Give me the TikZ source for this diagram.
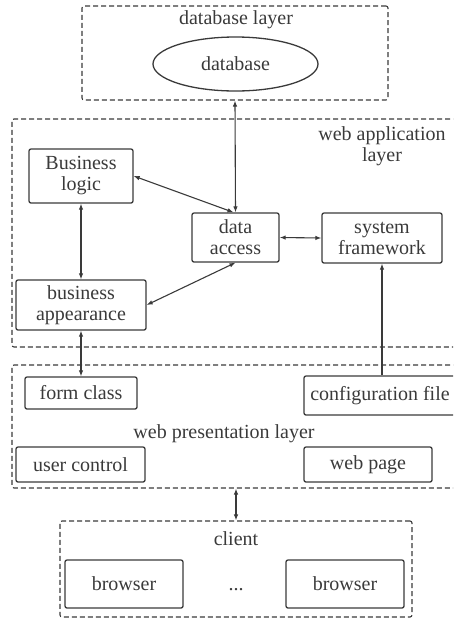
\documentclass[tikz,border=0pt]{standalone}
\usepackage{fontspec}
\setmainfont{Liberation Serif}
\usetikzlibrary{arrows.meta,shapes.geometric}
\definecolor{ink}{HTML}{3A3A3A}
\begin{document}
\begin{tikzpicture}[x=1pt,y=-1pt,
  every node/.style={font=\fontsize{20}{21}\selectfont, text=ink},
  layer/.style={draw=ink, dash pattern=on 5pt off 3pt, line width=1.1pt, rounded corners=2pt, inner sep=0pt},
  box/.style={draw=ink, line width=1.3pt, rounded corners=2pt, align=center, inner sep=0pt},
  link/.style={draw=ink, line width=1.1pt, {Latex[length=6pt,width=4.5pt]}-{Latex[length=6pt,width=4.5pt]}},
  uni/.style={draw=ink, line width=1.1pt, -{Latex[length=6pt,width=4.5pt]}}
]
\clip (0,0) rectangle (453,619);
% layers
\node[layer, minimum width=306pt, minimum height=94pt] (dblayer) at (235,53) {};
\node[layer, minimum width=448pt, minimum height=228pt] (applayer) at (236,233) {};
\node[layer, minimum width=448pt, minimum height=123pt] (preslayer) at (236,426.5) {};
\node[layer, minimum width=352pt, minimum height=96pt] (clientlayer) at (236,569) {};
% layer titles
\node (tdb) at (236,20) {database layer};
\node[align=center] (tapp) at (382,146) {web application\\layer};
\node (tpres) at (224,434) {web presentation layer};
\node (tcl) at (236,539) {client};
% database
\node[ellipse, draw=ink, line width=1.3pt, minimum width=165pt, minimum height=54pt, inner sep=0pt] (db) at (235.5,64) {database};
% app layer boxes
\node[box, minimum width=104pt, minimum height=54pt] (bl) at (81,176) {Business\\logic};
\node[box, minimum width=87pt, minimum height=49pt] (da) at (235.5,237.5) {data\\access};
\node[box, minimum width=120pt, minimum height=50pt] (sf) at (382,238) {system\\framework};
\node[box, minimum width=130pt, minimum height=50pt] (ba) at (81,305) {business\\appearance};
% presentation layer boxes
\node[box, minimum width=112pt, minimum height=32pt] (fc) at (81,393) {form class};
\node[box, minimum width=152pt, minimum height=39pt] (cf) at (380,395.5) {configuration file};
\node[box, minimum width=129pt, minimum height=35pt] (uc) at (80.5,464.5) {user control};
\node[box, minimum width=128pt, minimum height=35pt] (wp) at (368,464.5) {web page};
% client
\node[box, minimum width=118pt, minimum height=48pt] (b1) at (124,584) {browser};
\node (dots) at (236,590) {...};
\node[box, minimum width=118pt, minimum height=48pt] (b2) at (345,584) {browser};
% connectors
\draw[link] (dblayer.south) -- (da.north);
\draw[link] (bl.east) -- ([xshift=-2pt]da.north);
\draw[link] (bl.south) -- (ba.north);
\draw[link] (da.south) -- (ba.east);
\draw[link] (da.east) -- (sf.west);
\draw[uni] (sf.south |- cf.north) -- (sf.south);
\draw[link] (ba.south) -- (fc.north);
\draw[link] (preslayer.south) -- (clientlayer.north);
\end{tikzpicture}
\end{document}
